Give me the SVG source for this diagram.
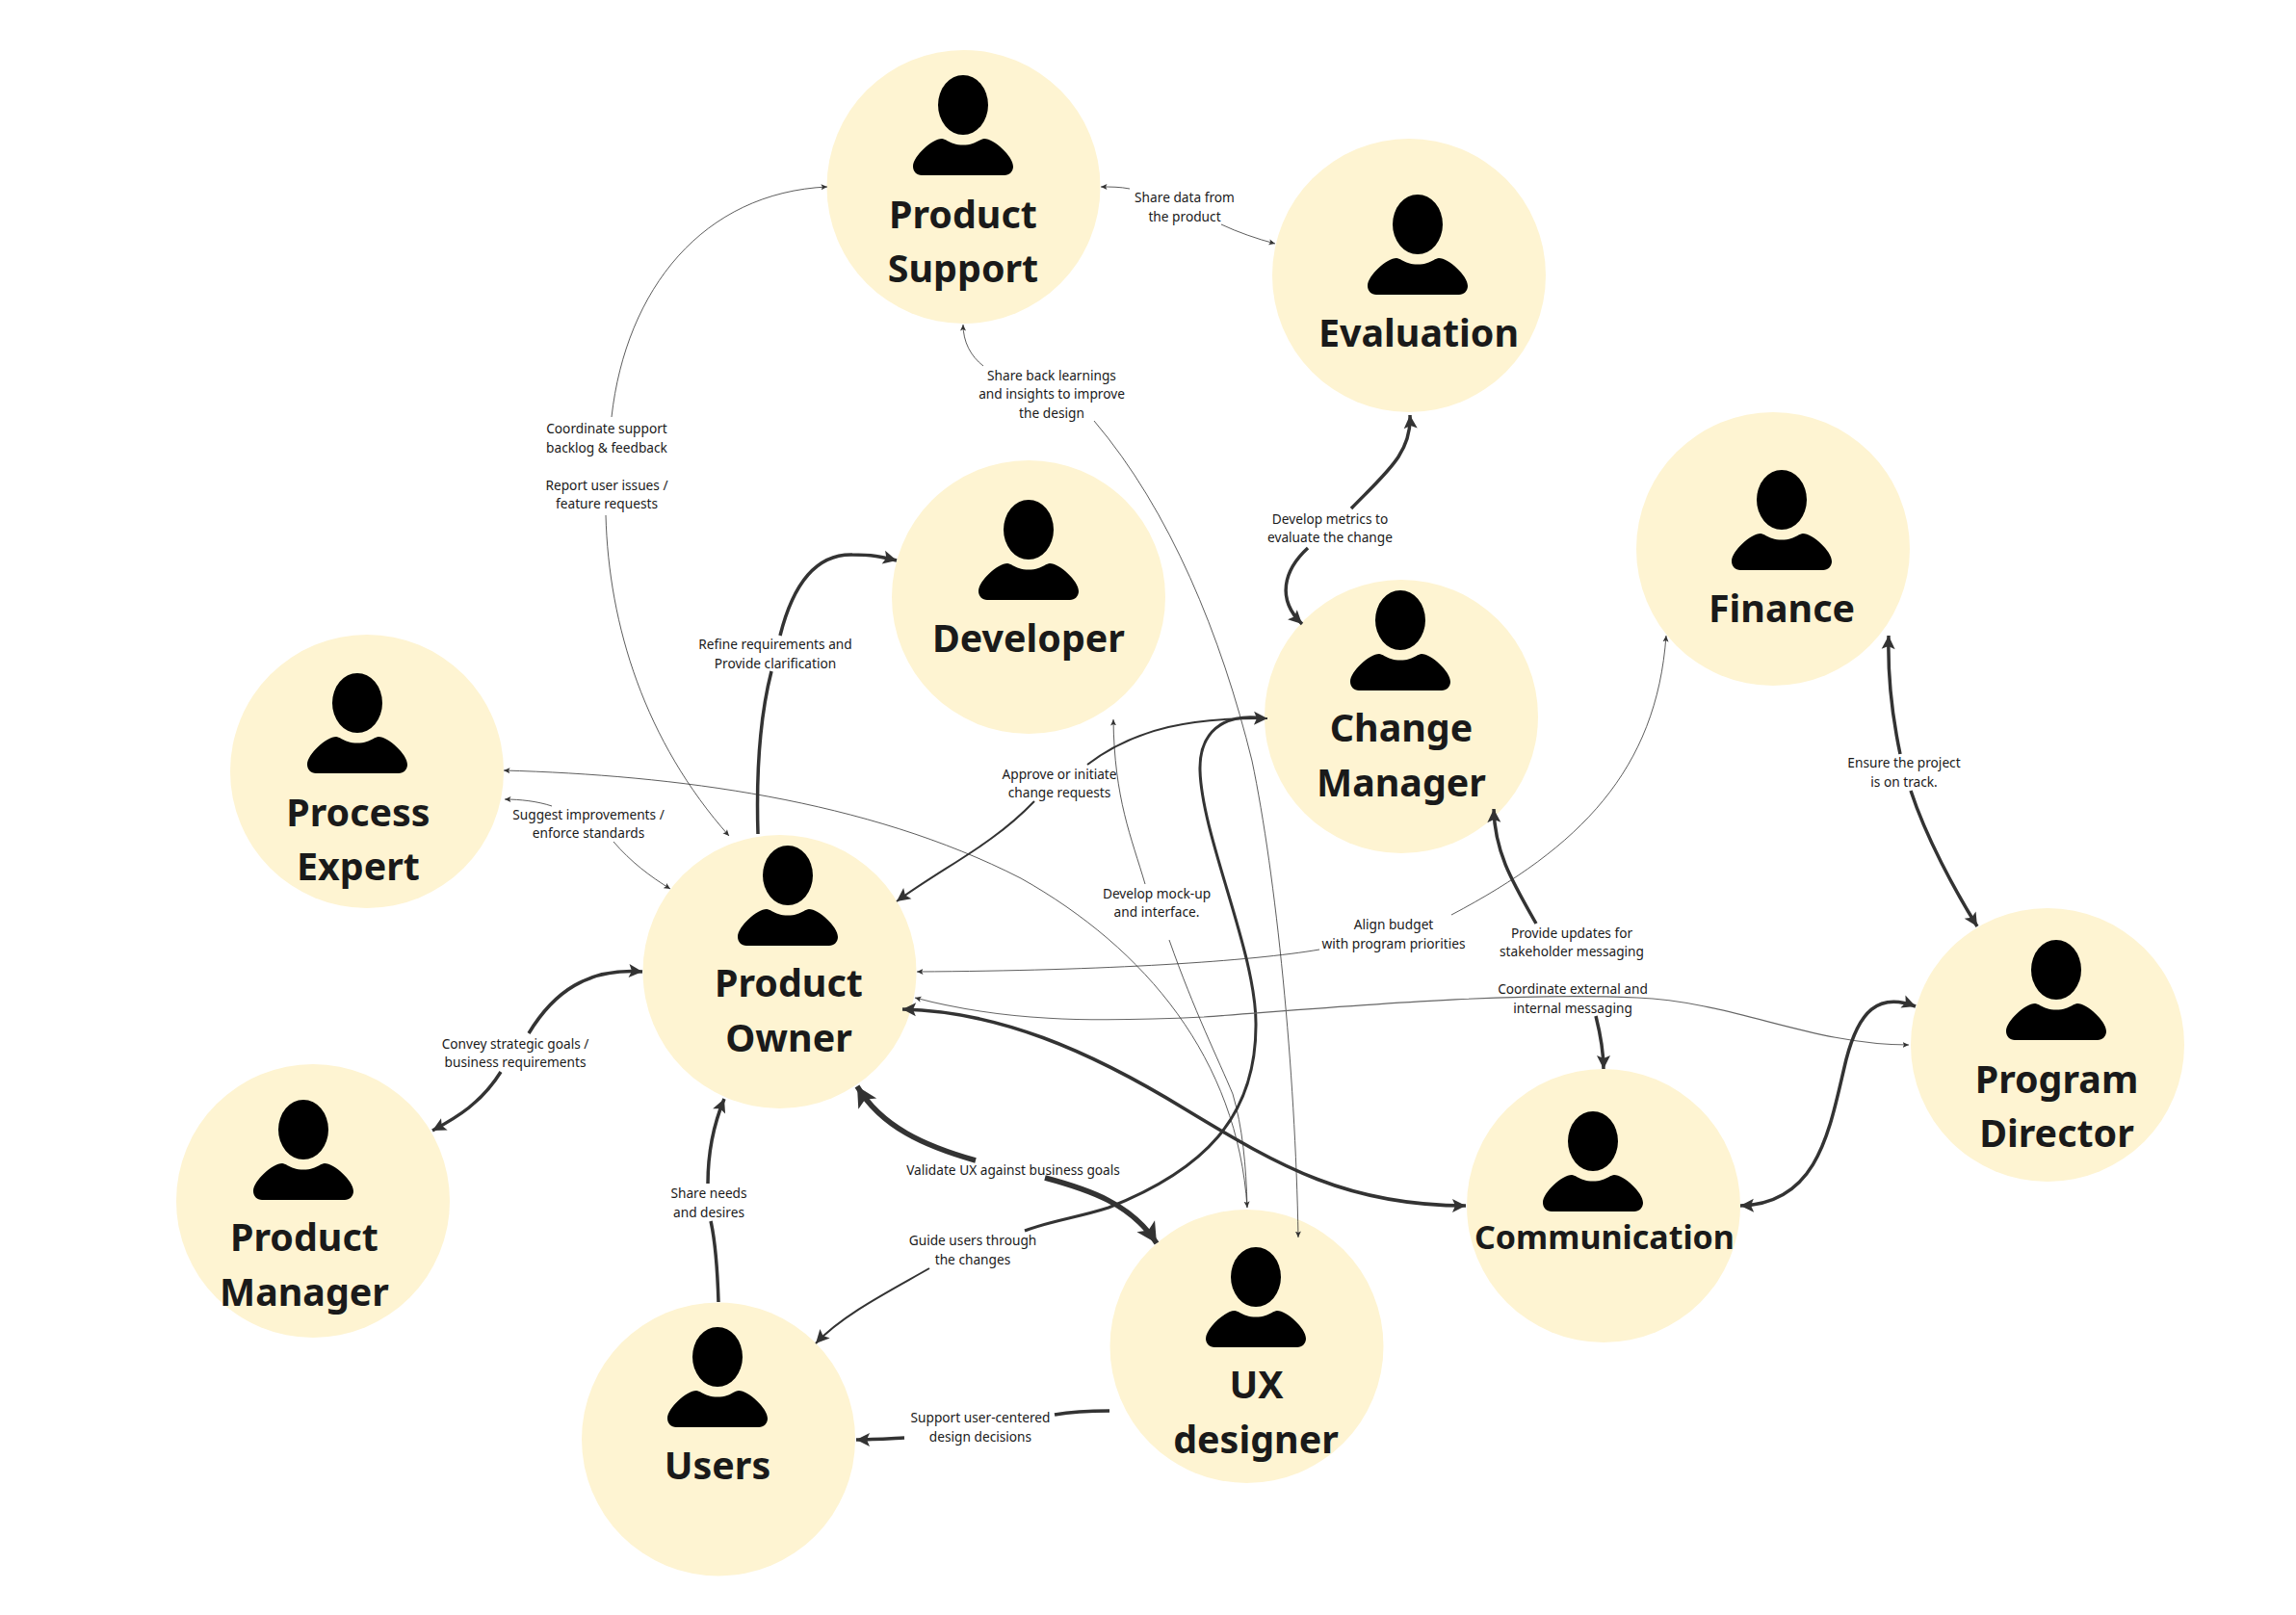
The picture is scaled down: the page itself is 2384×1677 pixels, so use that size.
<svg xmlns="http://www.w3.org/2000/svg" width="2384" height="1677" viewBox="0 0 2384 1677">
<style>
.c{fill:#fef4d2}
.n{font-family:"Noto Sans","Open Sans",sans-serif;font-weight:700;font-size:39.4px;fill:#1a1a1a;text-anchor:middle}
.l{font-family:"Noto Sans","Open Sans",sans-serif;font-size:13.7px;fill:#1a1a1a;text-anchor:middle}
path.e{fill:none;stroke:#333;stroke-linecap:butt}
.t{stroke-width:.8;marker-end:url(#hs)}
.ts{stroke-width:.8}
.b{stroke-width:3.5}
.be{stroke-width:3.5;marker-end:url(#hl)}
.x{stroke-width:5.5}
.xe{stroke-width:5.5;marker-end:url(#hx)}
</style>
<defs>
<marker id="hs" markerUnits="userSpaceOnUse" markerWidth="9" markerHeight="8" refX="6.5" refY="4" orient="auto-start-reverse"><path d="M6.5,4 L0,1 L1.5,4 L0,7Z" fill="#333"/></marker>
<marker id="hl" markerUnits="userSpaceOnUse" markerWidth="18" markerHeight="18" refX="15" refY="9" orient="auto-start-reverse"><path d="M15,9 L1,2 L4,9 L1,16Z" fill="#333"/></marker>
<marker id="hx" markerUnits="userSpaceOnUse" markerWidth="26" markerHeight="26" refX="22" refY="13" orient="auto-start-reverse"><path d="M22,13 L1,2 L6,13 L1,24Z" fill="#333"/></marker>
<g id="person"><ellipse cx="0" cy="31" rx="26" ry="31" fill="#000"/><path fill="#000" d="M-22,66 C-19,66 -14,70 -10,71 C-4,73 4,73 10,71 C14,70 19,66 22,66 C32,66 52,84 52,95 C52,100 48,104 43,104 L-43,104 C-48,104 -52,100 -52,95 C-52,84 -32,66 -22,66Z"/></g>
</defs>
<rect width="2384" height="1677" fill="#fff"/>
<g id="node-product-support"><circle class="c" cx="1000.5" cy="194" r="142"/><use href="#person" x="1000" y="78"/><text class="n" x="1000" y="237">Product</text><text class="n" x="1000" y="293">Support</text></g>
<g id="node-evaluation"><circle class="c" cx="1463" cy="286" r="142"/><use href="#person" x="1472" y="202"/><text class="n" x="1473" y="360">Evaluation</text></g>
<g id="node-developer"><circle class="c" cx="1068" cy="620" r="142"/><use href="#person" x="1068" y="519"/><text class="n" x="1068" y="677">Developer</text></g>
<g id="node-finance"><circle class="c" cx="1841" cy="570" r="142"/><use href="#person" x="1850" y="488"/><text class="n" x="1850" y="646">Finance</text></g>
<g id="node-change-manager"><circle class="c" cx="1455" cy="744" r="142"/><use href="#person" x="1454" y="613"/><text class="n" x="1455" y="770">Change</text><text class="n" x="1455" y="827">Manager</text></g>
<g id="node-process-expert"><circle class="c" cx="381" cy="801" r="142"/><use href="#person" x="371" y="699"/><text class="n" x="372" y="858">Process</text><text class="n" x="372" y="914">Expert</text></g>
<g id="node-product-owner"><circle class="c" cx="809.5" cy="1009" r="142"/><use href="#person" x="818" y="878"/><text class="n" x="819" y="1034.5">Product</text><text class="n" x="819" y="1091.5">Owner</text></g>
<g id="node-product-manager"><circle class="c" cx="325" cy="1247" r="142"/><use href="#person" x="315" y="1142"/><text class="n" x="316" y="1298.5">Product</text><text class="n" x="316" y="1355.5">Manager</text></g>
<g id="node-users"><circle class="c" cx="746" cy="1494.5" r="142"/><use href="#person" x="745" y="1378"/><text class="n" x="745" y="1535.5">Users</text></g>
<g id="node-ux-designer"><circle class="c" cx="1294.5" cy="1398" r="142"/><use href="#person" x="1304" y="1295"/><text class="n" x="1304.5" y="1452">UX</text><text class="n" x="1304" y="1508.5">designer</text></g>
<g id="node-communication"><circle class="c" cx="1665" cy="1252" r="142"/><use href="#person" x="1654" y="1154"/><text class="n" x="1666" y="1297" style="font-size:34px">Communication</text></g>
<g id="node-program-director"><circle class="c" cx="2126" cy="1085" r="142"/><use href="#person" x="2135" y="976"/><text class="n" x="2135.5" y="1135">Program</text><text class="n" x="2135.5" y="1191">Director</text></g>
<g id="connectors">
<path class="e t" d="M1173,196 C1163,194 1153,194 1143,194"/>
<path class="e t" d="M1268,233 C1285,241 1305,248 1324,253"/>
<path class="e t" d="M1021,380 C1008,370 1000,355 1000,337"/>
<path class="e t" d="M1136,437 C1215,530 1268,660 1300,790 C1325,910 1345,1110 1348,1285"/>
<path class="e be" d="M1403,528 C1440,490 1466,470 1464,431"/>
<path class="e be" d="M1358,569 C1333,592 1325,622 1352,648"/>
<path class="e b" d="M787,866 C785,800 790,740 801,697"/>
<path class="e be" d="M810,660 C820,620 840,575 885,576 C905,576 915,578 931,582"/>
<path class="e t" d="M635,433 C650,300 730,200 859,194"/>
<path class="e t" d="M629,535 C632,650 670,770 757,868"/>
<path class="e t" d="M573,837 C558,832 540,830 524,830"/>
<path class="e t" d="M637,874 C655,895 675,910 696,923"/>
<path class="e" stroke-width="2" marker-end="url(#hl)" d="M1129,794 C1180,755 1240,745 1316,746"/>
<path class="e" stroke-width="2" marker-end="url(#hl)" d="M1074,832 C1030,878 980,900 931,936"/>
<path class="e" stroke-width="3" d="M1306,745 C1270,742 1245,760 1246,800 C1248,870 1305,990 1304,1065 C1304,1160 1250,1215 1151,1254 C1120,1264 1090,1268 1064,1278"/>
<path class="e" stroke-width="2" marker-end="url(#hl)" d="M965,1317 C925,1340 875,1365 847,1395"/>
<path class="e be" d="M735,1229 C735,1195 742,1165 752,1141"/>
<path class="e b" d="M746,1352 C745,1320 743,1290 738,1268"/>
<path class="e xe" d="M1013,1205 C960,1190 915,1170 890,1128"/>
<path class="e xe" d="M1085,1223 C1130,1235 1175,1250 1201,1291"/>
<path class="e" stroke-width="3.5" d="M1152,1465 C1130,1465 1112,1466 1095,1469"/>
<path class="e be" d="M939,1493 C920,1494 905,1495 889,1495"/>
<path class="e be" d="M549,1073 C575,1030 610,1005 667,1009"/>
<path class="e be" d="M520,1113 C500,1145 475,1160 449,1174"/>
<path class="e be" style="marker-start:url(#hl)" d="M937,1048 C1035,1050 1130,1090 1231,1152 C1330,1212 1400,1252 1522,1252"/>
<path class="e be" d="M1595,959 C1570,915 1552,885 1551,840"/>
<path class="e be" d="M1657,1055 C1662,1075 1665,1090 1665,1110"/>
<path class="e t" d="M1370,986 C1300,998 1150,1008 952,1009"/>
<path class="e t" d="M1507,950 C1640,880 1720,800 1730,660"/>
<path class="e t" style="stroke:#666;marker-start:url(#hs);stroke-width:1.1" d="M1982,1085 C1880,1085 1800,1040 1700,1036 C1560,1030 1400,1045 1250,1056 C1130,1062 1040,1060 950,1036"/>
<path class="e be" d="M1973,783 C1965,745 1960,700 1961,660"/>
<path class="e be" d="M1984,821 C2000,870 2030,925 2053,962"/>
<path class="e be" style="marker-start:url(#hl)" d="M1989,1045 C1950,1030 1930,1050 1917,1100 C1900,1170 1890,1250 1807,1252"/>
<path class="e t" style="marker-start:url(#hs)" d="M523,800 C700,805 900,830 1060,912 C1190,985 1285,1100 1295,1254"/>
<path class="e t" d="M1189,918 C1175,870 1157,830 1156,747"/>
<path class="e ts" d="M1214,976 C1240,1050 1265,1100 1280,1136 C1290,1170 1294,1210 1295,1254"/>
</g>
<g id="labels">
<text class="l" x="1230" y="210">Share data from</text><text class="l" x="1230" y="230">the product</text>
<text class="l" x="1092" y="395">Share back learnings</text><text class="l" x="1092" y="414">and insights to improve</text><text class="l" x="1092" y="434">the design</text>
<text class="l" x="1381" y="544">Develop metrics to</text><text class="l" x="1381" y="563">evaluate the change</text>
<text class="l" x="630" y="450">Coordinate support</text><text class="l" x="630" y="470">backlog &amp; feedback</text><text class="l" x="630" y="509">Report user issues /</text><text class="l" x="630" y="528">feature requests</text>
<text class="l" x="805" y="674">Refine requirements and</text><text class="l" x="805" y="694">Provide clarification</text>
<text class="l" x="1100" y="809">Approve or initiate</text><text class="l" x="1100" y="828">change requests</text>
<text class="l" x="611" y="851">Suggest improvements /</text><text class="l" x="611" y="870">enforce standards</text>
<text class="l" x="1201" y="933">Develop mock-up</text><text class="l" x="1201" y="952">and interface.</text>
<text class="l" x="1447" y="965">Align budget</text><text class="l" x="1447" y="985">with program priorities</text>
<text class="l" x="1632" y="974">Provide updates for</text><text class="l" x="1632" y="993">stakeholder messaging</text>
<text class="l" x="1633" y="1032">Coordinate external and</text><text class="l" x="1633" y="1052">internal messaging</text>
<text class="l" x="1977" y="797">Ensure the project</text><text class="l" x="1977" y="817">is on track.</text>
<text class="l" x="535" y="1089">Convey strategic goals /</text><text class="l" x="535" y="1108">business requirements</text>
<text class="l" x="736" y="1244">Share needs</text><text class="l" x="736" y="1264">and desires</text>
<text class="l" x="1052" y="1220">Validate UX against business goals</text>
<text class="l" x="1010" y="1293">Guide users through</text><text class="l" x="1010" y="1313">the changes</text>
<text class="l" x="1018" y="1477">Support user-centered</text><text class="l" x="1018" y="1497">design decisions</text>
</g>
</svg>
